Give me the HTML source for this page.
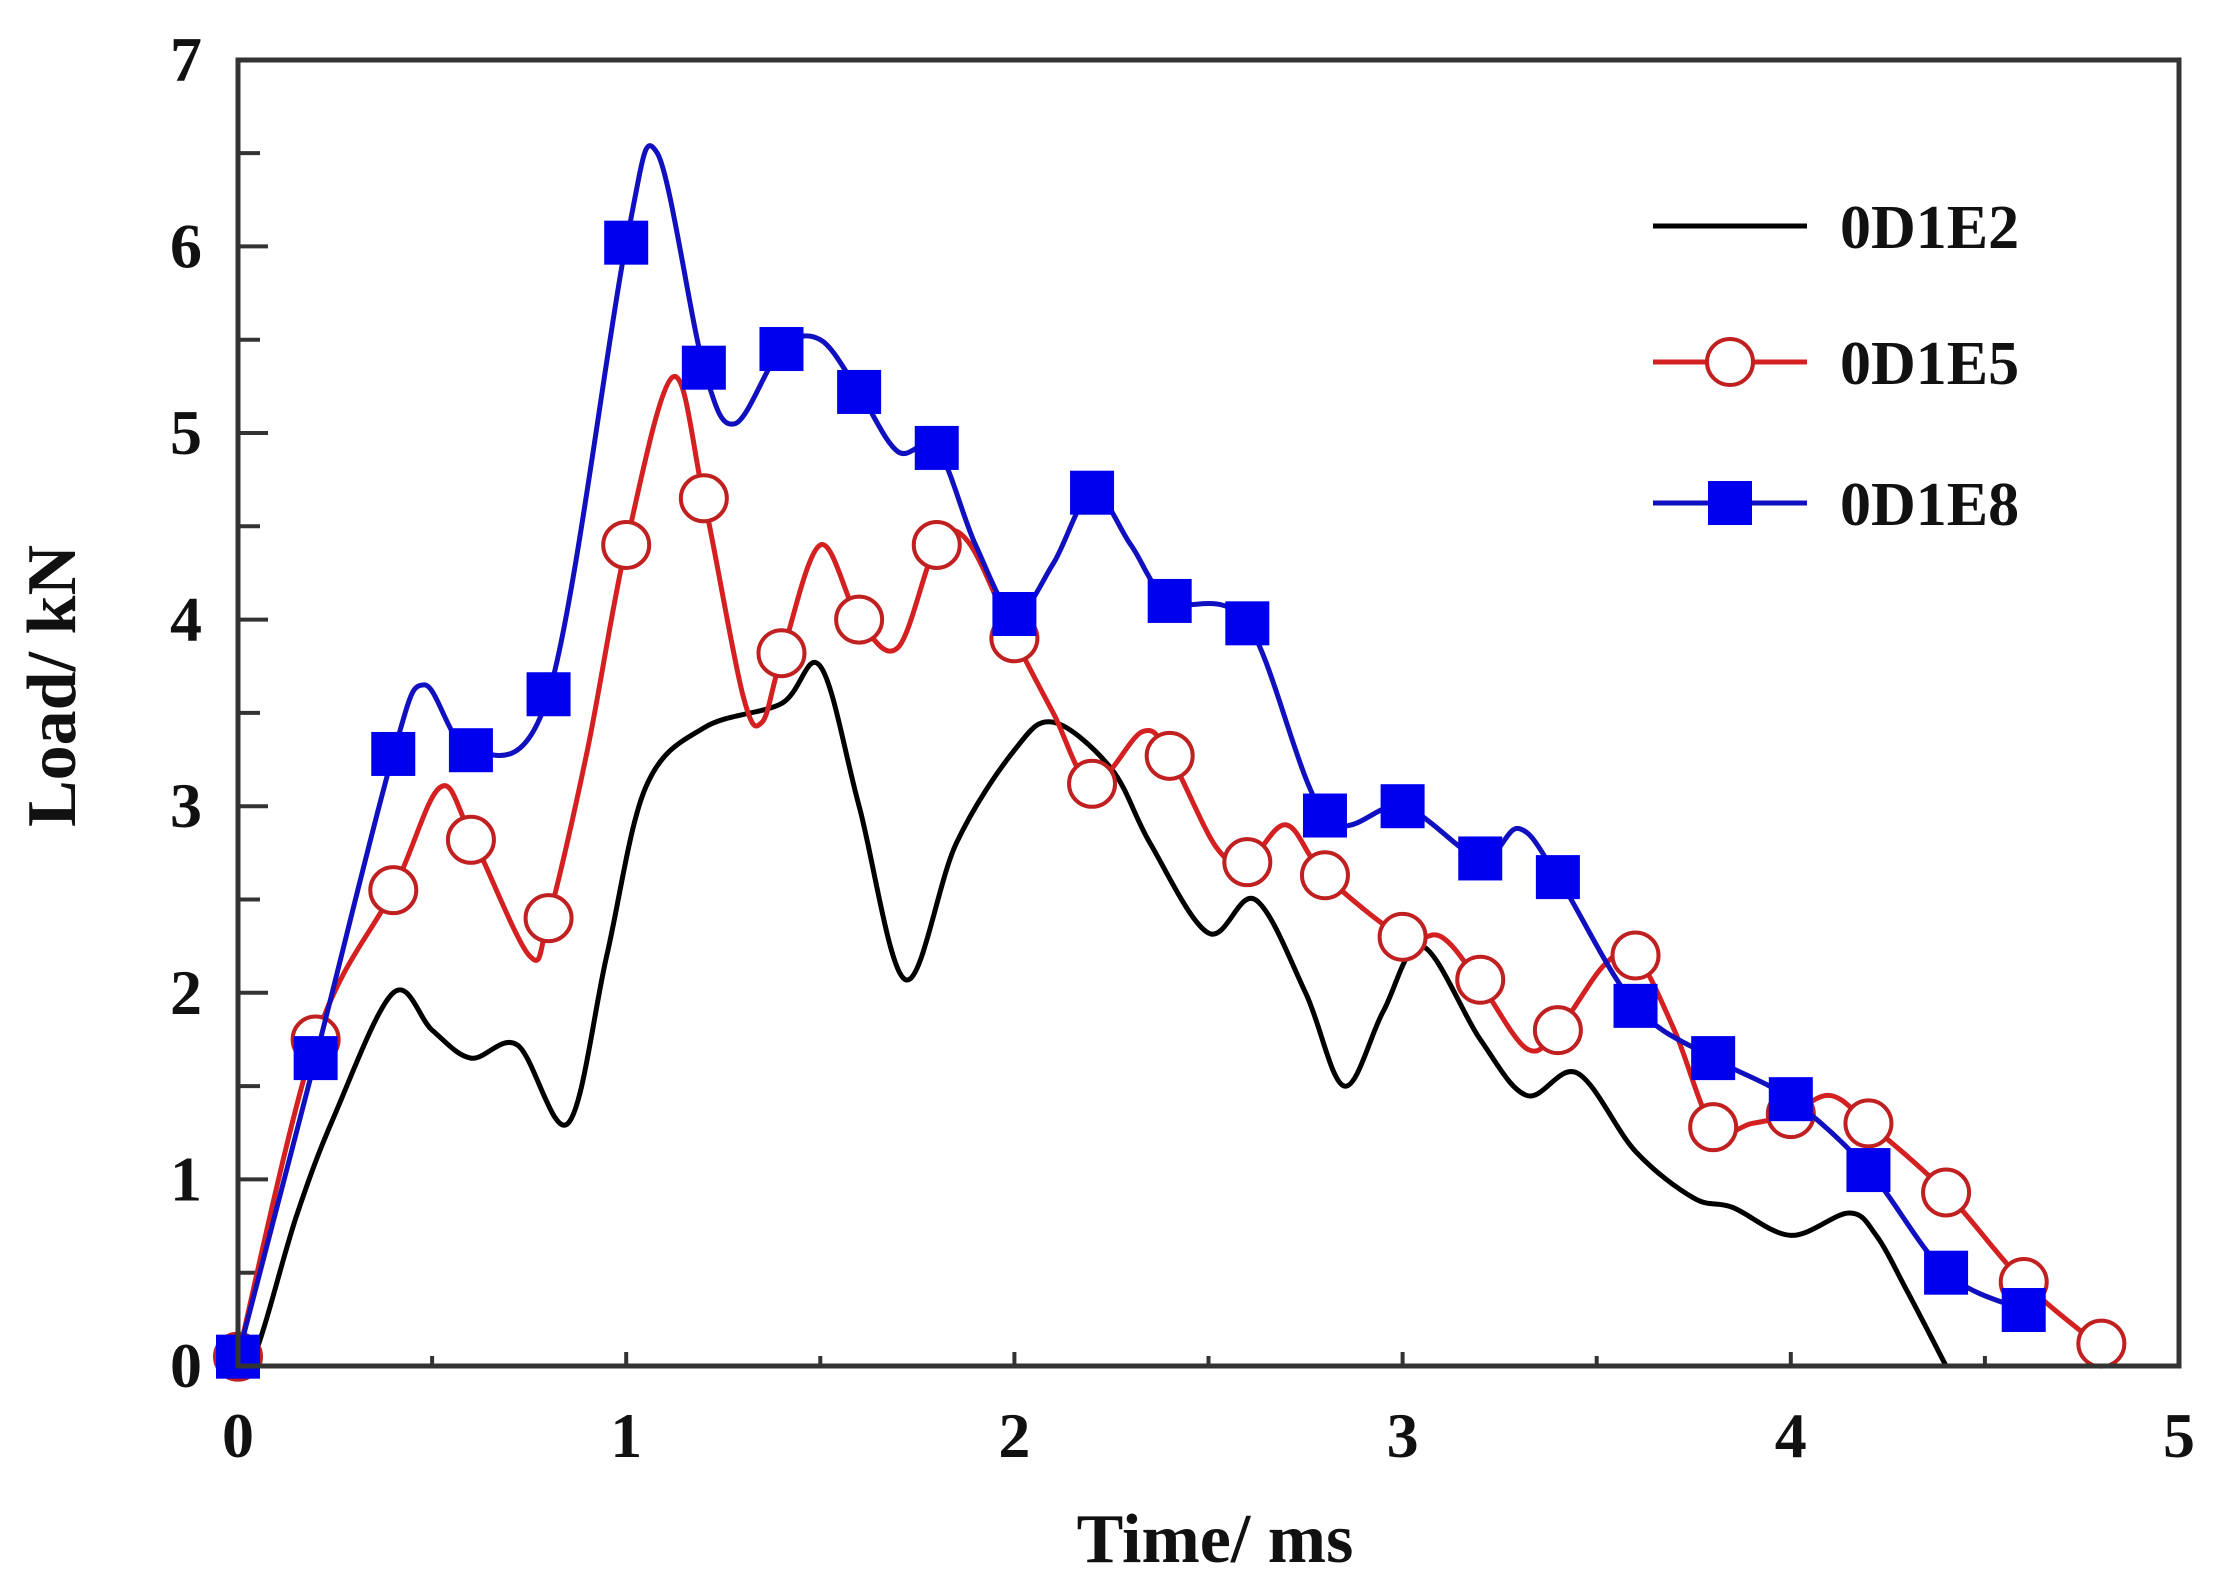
<!DOCTYPE html>
<html><head><meta charset="utf-8"><style>
html,body{margin:0;padding:0;background:#fff;}
svg{display:block;}
text{font-family:"Liberation Serif",serif;font-weight:bold;fill:#111;}
</style></head><body>
<svg id="s" width="2230" height="1589" viewBox="0 0 2230 1589" xmlns="http://www.w3.org/2000/svg">
<rect width="2230" height="1589" fill="#fff"/>
<g id="ticks" stroke="#333" stroke-width="4"></g>
<g id="series"></g>
<rect x="238" y="60" width="1941" height="1306" fill="none" stroke="#333" stroke-width="5"/>
<g id="labels" font-size="64"></g>
<text x="1215" y="1562" font-size="70" text-anchor="middle">Time/ ms</text>
<text transform="translate(75,686) rotate(-90)" font-size="70" text-anchor="middle">Load/ kN</text>
<g id="legend">
<line x1="1653" y1="226" x2="1807" y2="226" stroke="#000" stroke-width="5"/>
<text x="1840" y="248" font-size="62">0D1E2</text>
<line x1="1653" y1="362" x2="1807" y2="362" stroke="#d42020" stroke-width="5"/>
<circle cx="1730" cy="362" r="23" fill="#fff" stroke="#c02020" stroke-width="4"/>
<text x="1840" y="384" font-size="62">0D1E5</text>
<line x1="1653" y1="503" x2="1807" y2="503" stroke="#1010c0" stroke-width="5"/>
<rect x="1708" y="481" width="44" height="44" fill="#0000ee"/>
<text x="1840" y="525" font-size="62">0D1E8</text>
</g>
</svg>
<script>
var X=function(v){return 238+v*388.2;},Y=function(v){return 1366-v*186.6;};
var NS="http://www.w3.org/2000/svg";
function el(p,t,a,txt){var e=document.createElementNS(NS,t);for(var k in a)e.setAttribute(k,a[k]);if(txt!=null)e.textContent=txt;p.appendChild(e);return e;}
var tk=document.getElementById('ticks'),lb=document.getElementById('labels');
for(var i=0;i<=14;i++){var y=Y(i/2);if(i>0&&i<14)el(tk,'line',{x1:238,y1:y,x2:238+(i%2?22:30),y2:y});
 if(i%2==0)el(lb,'text',{x:202,y:y+21,'text-anchor':'end'},i/2);}
for(var i=0;i<=10;i++){var x=X(i/2);if(i>0&&i<10)el(tk,'line',{x1:x,y1:1366,x2:x,y2:1366-(i%2?10:14)});
 if(i%2==0)el(lb,'text',{x:x,y:1457,'text-anchor':'middle'},i/2);}
function path(pts){pts=pts.map(function(p){return [X(p[0]),Y(p[1])];});
 var d='M'+pts[0][0]+','+pts[0][1];
 for(var i=0;i<pts.length-1;i++){var p0=pts[i-1]||pts[i],p1=pts[i],p2=pts[i+1],p3=pts[i+2]||p2;
  d+=' C'+(p1[0]+(p2[0]-p0[0])/6)+','+(p1[1]+(p2[1]-p0[1])/6)+' '+(p2[0]-(p3[0]-p1[0])/6)+','+(p2[1]-(p3[1]-p1[1])/6)+' '+p2[0]+','+p2[1];}
 return d;}
var sg=document.getElementById('series');
var black=[[0,0],[0.05,0.1],[0.15,0.8],[0.25,1.35],[0.4,2.0],[0.5,1.8],[0.6,1.65],[0.72,1.72],[0.85,1.3],[0.95,2.2],[1.05,3.1],[1.2,3.42],[1.4,3.55],[1.5,3.75],[1.6,3.0],[1.72,2.07],[1.85,2.8],[2.0,3.3],[2.1,3.45],[2.25,3.2],[2.35,2.8],[2.5,2.32],[2.62,2.5],[2.75,2.0],[2.85,1.5],[2.95,1.9],[3.05,2.25],[3.2,1.75],[3.32,1.45],[3.45,1.57],[3.6,1.15],[3.75,0.9],[3.85,0.85],[4.0,0.7],[4.15,0.82],[4.22,0.7],[4.3,0.4],[4.4,0]];
var red=[[0,0.05],[0.2,1.75],[0.4,2.55],[0.52,3.1],[0.6,2.85],[0.75,2.2],[0.8,2.4],[0.9,3.3],[1.0,4.4],[1.12,5.3],[1.2,4.65],[1.3,3.6],[1.35,3.45],[1.4,3.8],[1.5,4.4],[1.6,4.0],[1.7,3.85],[1.8,4.4],[1.88,4.42],[2.0,3.9],[2.1,3.5],[2.2,3.12],[2.33,3.4],[2.4,3.27],[2.52,2.78],[2.6,2.7],[2.7,2.9],[2.8,2.63],[3.0,2.3],[3.1,2.3],[3.2,2.05],[3.32,1.7],[3.4,1.8],[3.52,2.15],[3.6,2.2],[3.7,1.8],[3.8,1.28],[3.9,1.3],[4.0,1.35],[4.1,1.45],[4.2,1.3],[4.4,0.93],[4.6,0.45],[4.8,0.1]];
var redM=[[0,0.05],[0.2,1.75],[0.4,2.55],[0.6,2.82],[0.8,2.4],[1.0,4.4],[1.2,4.65],[1.4,3.82],[1.6,4.0],[1.8,4.4],[2.0,3.9],[2.2,3.12],[2.4,3.27],[2.6,2.7],[2.8,2.63],[3.0,2.3],[3.2,2.07],[3.4,1.8],[3.6,2.2],[3.8,1.28],[4.0,1.35],[4.2,1.3],[4.4,0.93],[4.6,0.45],[4.8,0.12]];
var blue=[[0,0.05],[0.2,1.65],[0.4,3.28],[0.48,3.65],[0.6,3.3],[0.8,3.6],[1.0,6.02],[1.08,6.5],[1.2,5.35],[1.28,5.05],[1.4,5.45],[1.5,5.5],[1.6,5.22],[1.7,4.9],[1.8,4.92],[1.9,4.4],[2.0,4.03],[2.1,4.3],[2.2,4.68],[2.3,4.4],[2.4,4.1],[2.6,3.98],[2.8,2.95],[3.0,3.0],[3.2,2.72],[3.3,2.88],[3.4,2.62],[3.6,1.93],[3.8,1.65],[4.0,1.43],[4.2,1.05],[4.4,0.5],[4.6,0.3]];
var blueM=[[0,0.05],[0.2,1.65],[0.4,3.28],[0.6,3.3],[0.8,3.6],[1.0,6.02],[1.2,5.35],[1.4,5.45],[1.6,5.22],[1.8,4.92],[2.0,4.03],[2.2,4.68],[2.4,4.1],[2.6,3.98],[2.8,2.95],[3.0,3.0],[3.2,2.72],[3.4,2.62],[3.6,1.93],[3.8,1.65],[4.0,1.43],[4.2,1.05],[4.4,0.5],[4.6,0.3]];
el(sg,'path',{d:path(black),fill:'none',stroke:'#000','stroke-width':5});
el(sg,'path',{d:path(red),fill:'none',stroke:'#d42020','stroke-width':5});
redM.forEach(function(p){el(sg,'circle',{cx:X(p[0]),cy:Y(p[1]),r:23,fill:'#fff',stroke:'#c02020','stroke-width':4});});
el(sg,'path',{d:path(blue),fill:'none',stroke:'#1010c0','stroke-width':5});
blueM.forEach(function(p){el(sg,'rect',{x:X(p[0])-22,y:Y(p[1])-22,width:44,height:44,fill:'#0000ee'});});
</script>
</body></html>
